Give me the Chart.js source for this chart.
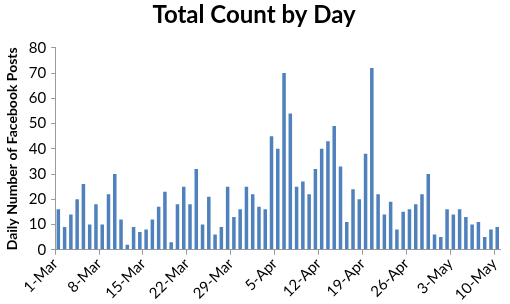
<!DOCTYPE html>
<html>
<head>
  <title>Total Count by Day</title>
  <script src="https://cdn.jsdelivr.net/npm/chart.js"></script>
  <style>
    body {
      margin: 0;
      background-color: #fff;
    }
  </style>
</head>
<body>
  <canvas id="dayChart" width="510" height="304"></canvas>

  <script>
    // months covered by the chart (1-Mar to 10-May)
    const months = ['Mar', 'Apr', 'May'];
    const monthDays = [31, 30, 10];

    // daily number of facebook posts
    const posts = [
      16, 9, 14, 20, 26, 10, 18, 10, 22, 30, 12, 2, 9, 7, 8, 12, 17, 23, 3, 18, 25, 18, 32, 10, 21,
      6, 9, 25, 13, 16, 25, 22, 17, 16, 45, 40, 70, 54, 25, 27, 22, 32, 40, 43, 49, 33, 11, 24, 20,
      38, 72, 22, 14, 19, 8, 15, 16, 18, 22, 30, 6, 5, 16, 14, 16, 13, 10, 11, 5, 8, 9
    ];

    const tickLabels = ['1-Mar', '8-Mar', '15-Mar', '22-Mar', '29-Mar', '5-Apr', '12-Apr', '19-Apr', '26-Apr', '3-May', '10-May'];

    const days = [];
    months.forEach((m, i) => {
      for (let d = 1; d <= monthDays[i]; d++) days.push(d + '-' + m);
    });

    const font = 'Lato, "Open Sans", sans-serif';

    const ctx = document.getElementById('dayChart').getContext('2d');
    const chart = new Chart(ctx, {
      type: 'bar',
      data: {
        labels: days,
        datasets: [{
          label: 'Posts',
          data: posts,
          backgroundColor: '#4F81BD',
          borderWidth: 0,
          barPercentage: 0.56,
          categoryPercentage: 1
        }]
      },
      options: {
        responsive: false,
        animation: false,
        layout: { padding: { left: 4, right: 6, top: 0, bottom: 0 } },
        plugins: {
          legend: { display: false },
          tooltip: { enabled: false },
          title: {
            display: true,
            text: 'Total Count by Day',
            color: '#000',
            font: { family: font, size: 24, weight: 'bold' },
            padding: { top: 1, bottom: 18 }
          }
        },
        scales: {
          x: {
            grid: {
              offset: true,
              drawOnChartArea: false,
              tickLength: 5,
              tickColor: c => (c.index % 7 === 0 ? '#9a9a9a' : 'rgba(0,0,0,0)')
            },
            border: { color: '#9a9a9a' },
            ticks: {
              autoSkip: false,
              maxRotation: 45,
              minRotation: 45,
              labelOffset: -3,
              padding: 0,
              color: '#000',
              font: { family: font, size: 15 },
              callback: function(value, index) {
                return index % 7 === 0 ? tickLabels[index / 7] : '';
              }
            }
          },
          y: {
            min: 0,
            max: 80,
            grid: { drawOnChartArea: false, tickLength: 4, tickColor: '#9a9a9a' },
            border: { color: '#9a9a9a' },
            ticks: {
              stepSize: 10,
              padding: 5,
              color: '#000',
              font: { family: font, size: 15 },
              callback: v => v
            },
            title: {
              display: true,
              text: 'Daily Number of Facebook Posts',
              color: '#000',
              font: { family: font, size: 14, weight: 'bold' },
              padding: { top: 0, bottom: 3 }
            }
          }
        }
      }
    });
  </script>
</body>
</html>
